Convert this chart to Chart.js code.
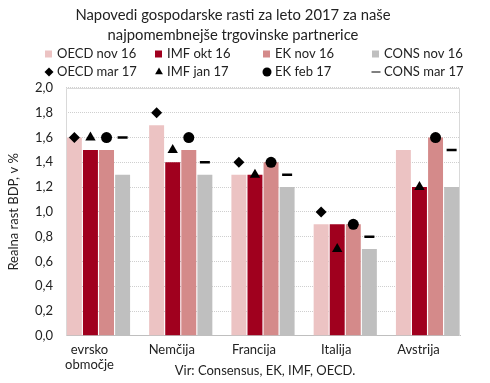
<!DOCTYPE html>
<html>
<head>
<meta charset="utf-8">
<script src="https://cdn.jsdelivr.net/npm/chart.js@4"></script>
<style>
html,body{margin:0;padding:0;background:#fff;}
#wrap{width:490px;height:383px;}
</style>
</head>
<body>
<div id="wrap"><canvas id="c" width="490" height="383"></canvas></div>
<script>
const categories = [["evrsko","območje"], "Nemčija", "Francija", "Italija", "Avstrija"];
const oecdNov16 = [1.6, 1.7, 1.3, 0.9, 1.5];
const imfOkt16  = [1.5, 1.4, 1.3, 0.9, 1.2];
const ekNov16   = [1.5, 1.5, 1.4, 0.9, 1.6];
const consNov16 = [1.3, 1.3, 1.2, 0.7, 1.2];
const oecdMar17 = [1.6, 1.8, 1.4, 1.0, null];
const imfJan17  = [1.6, 1.5, 1.3, 0.7, 1.2];
const ekFeb17   = [1.6, 1.6, 1.4, 0.9, 1.6];
const consMar17 = [1.6, 1.4, 1.3, 0.8, 1.5];
const yTicks = [0, 0.2, 0.4, 0.6, 0.8, 1.0, 1.2, 1.4, 1.6, 1.8, 2.0];
const titleLines = ["Napovedi gospodarske rasti za leto 2017 za naše", "najpomembnejše trgovinske partnerice"];
const yTitle = "Realna rast BDP, v %";
const sourceText = "Vir: Consensus, EK, IMF, OECD.";

const FONT = "Lato";
const toXY = arr => arr.map((v, i) => ({x: i, y: v}));

const barSets = [
  {label: "OECD nov 16", data: oecdNov16, color: "#ecc3c3"},
  {label: "IMF okt 16", data: imfOkt16, color: "#a0001e"},
  {label: "EK nov 16", data: ekNov16, color: "#d48a8a"},
  {label: "CONS nov 16", data: consNov16, color: "#bfbfbf"}
];
const markSets = [
  {label: "OECD mar 17", data: oecdMar17, style: "rectRot", r: 5.5, pair: 0},
  {label: "IMF jan 17", data: imfJan17, style: "triangle", r: 6, pair: 1},
  {label: "EK feb 17", data: ekFeb17, style: "circle", r: 5.5, pair: 2},
  {label: "CONS mar 17", data: consMar17, style: "line", r: 5, pair: 3}
];

const datasets = [];
barSets.forEach(b => datasets.push({
  type: "bar", label: b.label, data: toXY(b.data), backgroundColor: b.color,
  borderWidth: 0, categoryPercentage: 0.782, barPercentage: 0.93, order: 2
}));
markSets.forEach(m => datasets.push({
  type: "line", label: m.label, data: toXY(m.data), showLine: false,
  pointStyle: m.style, pointRadius: m.r, pointHoverRadius: m.r,
  pointBackgroundColor: "#000", pointBorderColor: "#000",
  pointBorderWidth: m.style === "line" ? 2.5 : 0, order: 1, pairIndex: m.pair
}));

const alignMarkers = {
  id: "alignMarkers",
  afterDatasetsUpdate(chart) {
    chart.data.datasets.forEach((ds, k) => {
      if (ds.pairIndex === undefined) return;
      const barMeta = chart.getDatasetMeta(ds.pairIndex);
      const meta = chart.getDatasetMeta(k);
      meta.data.forEach((pt, i) => { if (barMeta.data[i]) pt.x = barMeta.data[i].x; });
    });
  }
};

const boxAndLegend = {
  id: "boxAndLegend",
  beforeDatasetsDraw(chart) {
    const {ctx, chartArea: a} = chart;
    ctx.save();
    ctx.strokeStyle = "#d9d9d9";
    ctx.lineWidth = 1;
    ctx.beginPath();
    ctx.moveTo(a.left + 0.5, a.bottom);
    ctx.lineTo(a.left + 0.5, a.top + 0.5);
    ctx.lineTo(a.right - 0.5, a.top + 0.5);
    ctx.lineTo(a.right - 0.5, a.bottom);
    ctx.stroke();
    ctx.restore();
  },
  afterDraw(chart) {
    const {ctx} = chart;
    ctx.save();
    const colX = [45, 155, 263, 372];
    const rowY = [54, 72];
    ctx.font = "13px " + FONT;
    ctx.textBaseline = "middle";
    ctx.textAlign = "left";
    barSets.forEach((b, i) => {
      ctx.fillStyle = b.color;
      ctx.fillRect(colX[i], rowY[0] - 3.5, 7, 7);
      ctx.fillStyle = "#222";
      ctx.fillText(b.label, colX[i] + 12, rowY[0]);
    });
    markSets.forEach((m, i) => {
      ctx.fillStyle = "#000"; ctx.strokeStyle = "#000";
      Chart.helpers.drawPoint(ctx, {
        pointStyle: m.style, radius: 4.5, rotation: 0,
        borderWidth: m.style === "line" ? 2 : 0
      }, colX[i] + 4, rowY[1]);
      ctx.fillStyle = "#222";
      ctx.fillText(m.label, colX[i] + 12, rowY[1]);
    });
    ctx.textAlign = "center";
    ctx.fillText(sourceText, 265, 371);
    ctx.restore();
  }
};

Chart.defaults.font.family = FONT;
Chart.defaults.color = "#222";

new Chart(document.getElementById("c"), {
  data: {datasets},
  options: {
    responsive: false,
    animation: false,
    devicePixelRatio: 1,
    layout: {padding: {left: 6, right: 30, top: 0, bottom: 4}},
    plugins: {
      legend: {display: false},
      tooltip: {enabled: false},
      title: {
        display: true, text: titleLines, color: "#222",
        font: {family: FONT, size: 14.8, weight: "normal", lineHeight: 1.35},
        padding: {top: 5, bottom: 43}
      }
    },
    scales: {
      x: {
        type: "linear", min: -0.395, max: 4.395, bounds: "data", offset: false,
        afterBuildTicks(s) { s.ticks = categories.map((c, i) => ({value: i})); },
        grid: {display: false, drawTicks: false, offset: false},
        border: {display: true, color: "#bfbfbf", width: 1},
        ticks: {
          autoSkip: false, maxRotation: 0,
          font: {size: 13}, color: "#222", padding: 6, labelOffset: -9,
          callback: v => Number.isInteger(v) ? categories[v] : ""
        }
      },
      y: {
        stacked: false, min: 0, max: 2,
        afterFit(s) { s.width = 60; },
        afterBuildTicks(s) { s.ticks = yTicks.map(v => ({value: v})); },
        grid: {color: "#cfcfcf", drawTicks: false, lineWidth: 1},
        border: {display: false, dash: [1, 1]},
        ticks: {
          font: {size: 13}, color: "#222", padding: 13,
          callback: v => v.toFixed(1).replace(".", ",")
        },
        title: {display: true, text: yTitle, font: {size: 13}, color: "#222", padding: {top: 0, bottom: 2}}
      }
    }
  },
  plugins: [alignMarkers, boxAndLegend]
});
</script>
</body>
</html>
